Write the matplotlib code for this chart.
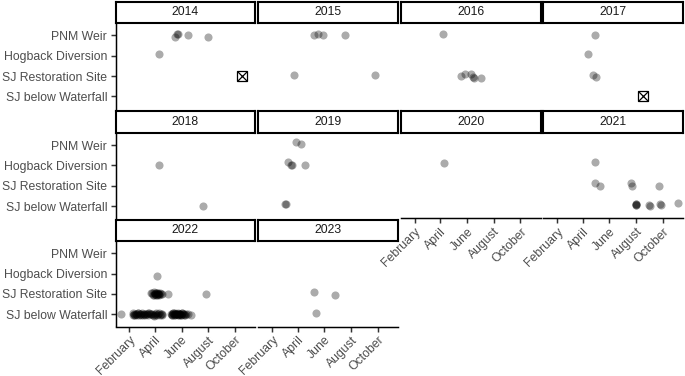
import matplotlib
matplotlib.use("Agg")
import matplotlib.pyplot as plt

plt.rcParams['font.family'] = ['Liberation Sans', 'DejaVu Sans']

# ---------------- data ----------------
years = [2014, 2015, 2016, 2017, 2018, 2019, 2020, 2021, 2022, 2023]
site_keys = ["SJW", "SJR", "HOG", "PNM"]            # bottom -> top
site_labels = ["SJ below Waterfall", "SJ Restoration Site",
               "Hogback Diversion", "PNM Weir"]
month_doy = [32, 91, 152, 213, 274]
month_labels = ["February", "April", "June", "August", "October"]

# detections (year, site, day of year, small vertical jitter)
det_year = (
    [2014] * 6 + [2015] * 6 + [2016] * 7 + [2017] * 4 + [2018] * 2 +
    [2019] * 8 + [2020] * 1 + [2021] * 15 + [2022] * 96 + [2023] * 3
)
det_site = (
    ["PNM", "PNM", "PNM", "PNM", "PNM", "HOG"] +
    ["PNM", "PNM", "PNM", "PNM", "SJR", "SJR"] +
    ["PNM", "SJR", "SJR", "SJR", "SJR", "SJR", "SJR"] +
    ["PNM", "HOG", "SJR", "SJR"] +
    ["HOG", "SJW"] +
    ["PNM", "PNM", "HOG", "HOG", "HOG", "HOG", "SJW", "SJW"] +
    ["HOG"] +
    ["HOG", "SJR", "SJR", "SJR", "SJR", "SJR",
     "SJW", "SJW", "SJW", "SJW", "SJW", "SJW", "SJW", "SJW", "SJW"] +
    ["HOG"] + ["SJR"] * 22 + ["SJW"] * 73 +
    ["SJR", "SJR", "SJW"]
)
det_doy = (
    [137, 142, 144, 167, 213, 101] +
    [128, 137, 149, 199, 83, 267] +
    [96, 137, 148, 161, 166, 168, 184] +
    [120, 102, 114, 122] +
    [100, 200] +
    [86, 98, 68, 76, 78, 107, 61, 63] +
    [99] +
    [119, 119, 131, 202, 203, 266, 212, 213, 214, 212, 243, 245, 267, 269, 308] +
    [96] +
    [83, 86, 89, 92, 94, 96, 98, 100, 103, 107, 122, 207,
     85, 88, 90, 91, 93, 95, 97, 99, 101, 104] +
    [13, 40, 42, 45, 48, 52, 55, 58, 61, 63, 66, 70, 74, 78, 82, 86, 88,
     92, 95, 100, 104, 108, 128, 130, 132, 134, 136, 138, 140, 142, 144,
     146, 148, 150, 152, 155, 158, 162, 166, 174,
     41, 44, 47, 50, 53, 57, 60, 65, 68, 72, 76, 80, 84, 90, 94, 98, 102, 106,
     129, 131, 133, 135, 137, 139, 141, 143, 145, 147, 149, 151, 154, 157, 160] +
    [128, 177, 133]
)
det_jit = (
    [-0.10, 0.08, 0.06, 0.02, -0.10, 0.11] +
    [0.0, 0.08, 0.0, 0.01, 0.05, 0.05] +
    [0.05, 0.0, 0.10, 0.10, -0.06, -0.08, -0.08] +
    [0.0, 0.10, 0.06, -0.06] +
    [0.0, -0.02] +
    [0.13, 0.03, 0.16, 0.04, 0.02, 0.0, 0.10, 0.10] +
    [0.10] +
    [0.16, 0.11, 0.01, 0.11, 0.0, -0.02, 0.09, 0.08, 0.07, 0.06, 0.03, 0.02,
     0.09, 0.05, 0.13] +
    [-0.10] +
    [0.05, -0.03, 0.08, 0.02, -0.05, 0.06, 0.0, -0.02, 0.04, 0.01, 0.0, 0.0,
     0.07, -0.06, 0.03, -0.02, 0.06, -0.04, 0.02, 0.05, -0.03, 0.0] +
    [0.0, -0.02, 0.03, -0.04, 0.02, 0.05, -0.03, 0.01, 0.04, -0.05, 0.02,
     0.0, -0.03, 0.05, 0.01, -0.02, -0.08, 0.03, -0.04, 0.06, 0.0, -0.02,
     0.02, -0.03, 0.04, 0.0, 0.05, -0.02, 0.01, 0.03, -0.05, 0.02, 0.0,
     -0.03, 0.04, 0.01, -0.02, 0.03, -0.01, -0.02,
     0.04, -0.03, 0.02, -0.05, 0.05, 0.0, -0.02, 0.03, -0.04, 0.01, 0.06,
     -0.01, 0.02, -0.03, 0.04, 0.0, -0.05, 0.03, 0.02, -0.02, 0.05, -0.04,
     0.01, 0.03, -0.01, 0.04, -0.03, 0.02, 0.0, -0.02, 0.05, 0.01, -0.04] +
    [0.10, -0.05, 0.08]
)
assert len(det_year) == len(det_site) == len(det_doy) == len(det_jit)

# special (boxed-cross) records
box_year = [2014, 2017]
box_site = ["SJR", "SJW"]
box_doy = [291, 228]

# ---------------- layout ----------------
W, H = 685, 376
fig = plt.figure(figsize=(W / 100, H / 100), dpi=100)
fig.patch.set_facecolor("white")

col_left = [115.5, 258.3, 401.0, 543.3]
panel_w = 139.5
row_strip_top = [1.7, 111.3, 219.5]
strip_h = 21.5
panel_h = 85.5
ncol = 4
xlim = (0.7, 320.0)
ylim = (0.4, 4.6)
line_w = 1.07
txt_col = "#4D4D4D"

def fig_rect(x0, y0, w, h):
    return [x0 / W, 1 - (y0 + h) / H, w / W, h / H]

for i, yr in enumerate(years):
    r, c = divmod(i, ncol)
    x0 = col_left[c]
    st = row_strip_top[r]
    ax = fig.add_axes(fig_rect(x0, st + strip_h, panel_w, panel_h))
    ax.set_xlim(*xlim)
    ax.set_ylim(*ylim)
    ax.set_facecolor("none")
    for s in ax.spines.values():
        s.set_visible(False)

    xs, ys = [], []
    for y_, s_, d_, j_ in zip(det_year, det_site, det_doy, det_jit):
        if y_ == yr:
            xs.append(d_)
            ys.append(site_keys.index(s_) + 1 + j_)
    ax.scatter(xs, ys, s=34, color="black", alpha=0.33, linewidths=0,
               zorder=3, clip_on=False)
    for y_, s_, d_ in zip(box_year, box_site, box_doy):
        if y_ == yr:
            yy = site_keys.index(s_) + 1
            ax.plot([d_], [yy], marker="s", ms=7.2, mfc="none", mec="black",
                    mew=0.9, zorder=4)
            ax.plot([d_], [yy], marker="x", ms=7.2, mec="black",
                    mew=0.9, zorder=4)

    ax.set_yticks([1, 2, 3, 4])
    if c == 0:
        ax.spines["left"].set_visible(True)
        ax.spines["left"].set_linewidth(line_w)
        ax.spines["left"].set_color("black")
        ax.set_yticklabels(site_labels, fontsize=8.8, color=txt_col)
        ax.tick_params(axis="y", length=3.8, width=line_w, color="#333333", pad=2.2)
    else:
        ax.tick_params(axis="y", left=False, labelleft=False)

    has_x = i + ncol >= len(years)
    ax.set_xticks(month_doy)
    if has_x:
        ax.spines["bottom"].set_visible(True)
        ax.spines["bottom"].set_linewidth(line_w)
        ax.spines["bottom"].set_color("black")
        ax.set_xticklabels(month_labels, fontsize=8.8, color=txt_col,
                           rotation=45, ha="right", va="top",
                           rotation_mode="anchor")
        ax.tick_params(axis="x", length=3.8, width=line_w, color="#333333", pad=1.6)
    else:
        ax.tick_params(axis="x", bottom=False, labelbottom=False)

    sax = fig.add_axes(fig_rect(x0, st, panel_w, strip_h))
    sax.set_xticks([])
    sax.set_yticks([])
    sax.set_facecolor("white")
    for s in sax.spines.values():
        s.set_linewidth(1.5)
        s.set_color("black")
    sax.text(0.5, 0.5, str(yr), ha="center", va="center", fontsize=8.8,
             color="#1A1A1A", transform=sax.transAxes)

fig.savefig("out.png", dpi=100, facecolor="white")
